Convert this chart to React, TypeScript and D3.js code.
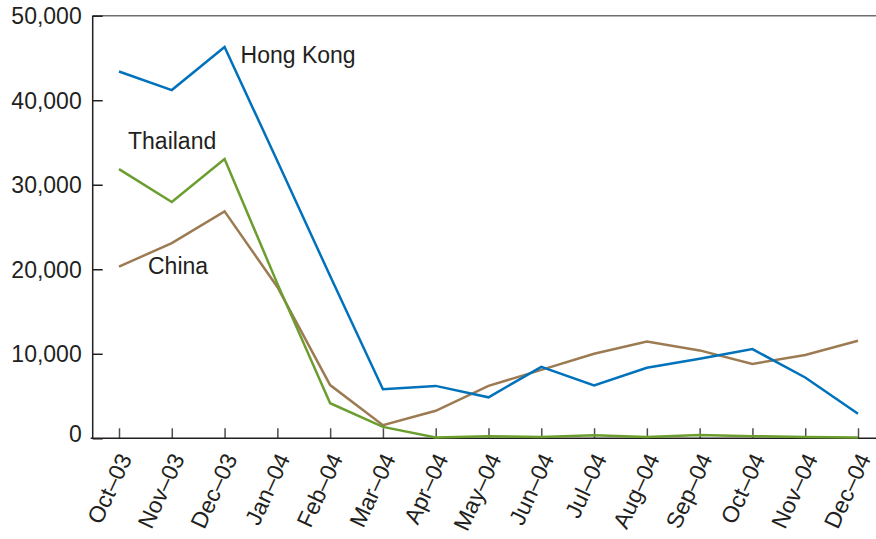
/* eslint-disable */
import React, { useEffect, useRef } from 'react';
import * as d3 from 'd3';

// ------- Data -------
const months = [
  'Oct–03', 'Nov–03', 'Dec–03', 'Jan–04', 'Feb–04', 'Mar–04', 'Apr–04', 'May–04',
  'Jun–04', 'Jul–04', 'Aug–04', 'Sep–04', 'Oct–04', 'Nov–04', 'Dec–04',
];
const hongKong = [43400, 41200, 46300, 32800, 19200, 5800, 6200, 4850, 8450, 6250, 8350, 9400, 10550, 7200, 2900];
const thailand = [31850, 27950, 33050, 18300, 4150, 1350, 100, 250, 150, 350, 150, 400, 250, 150, 100];
const china = [20300, 23100, 26850, 17900, 6300, 1550, 3250, 6200, 8100, 10000, 11450, 10400, 8800, 9850, 11550];
const yTicks = [0, 10000, 20000, 30000, 40000, 50000];

const INK = '#231f20';
const FONT = '"Liberation Sans", Arial, Helvetica, sans-serif';

export default function App() {
  const ref = useRef<SVGSVGElement>(null);

  useEffect(() => {
    if (!ref.current) return;
    const svg = d3.select(ref.current);
    svg.selectAll('*').remove();

    const width = 876;
    const height = 539;
    const axisX = 92.7;

    svg.attr('viewBox', `0 0 ${width} ${height}`);

    // ------- Scales -------
    const x = d3.scalePoint<string>().domain(months).range([119, 858]);
    const y = d3.scaleLinear().domain([0, 50000]).range([438.3, 15.7]);

    // ------- Frame lines -------
    svg.append('line')
      .attr('x1', axisX).attr('x2', width)
      .attr('y1', y(50000)).attr('y2', y(50000))
      .attr('stroke', '#6d6e71').attr('stroke-width', 1.5);

    svg.append('line')
      .attr('x1', axisX).attr('x2', axisX)
      .attr('y1', y(50000)).attr('y2', y(0))
      .attr('stroke', INK).attr('stroke-width', 1.5);

    // ------- Y axis -------
    const yAxis = svg.append('g')
      .attr('transform', `translate(${axisX},0)`)
      .call(d3.axisLeft(y).tickValues(yTicks).tickFormat(d3.format(',') as any).tickSize(-10).tickPadding(11).tickSizeOuter(0));
    yAxis.select('.domain').remove();
    yAxis.selectAll('.tick line').attr('stroke', INK).attr('stroke-width', 1.5);
    yAxis.selectAll('.tick text')
      .attr('fill', INK)
      .style('font-family', FONT)
      .style('font-size', '23px')
      .attr('dy', (d: any) => (d === 0 ? '0.15em' : '0.34em'));

    // ------- X axis -------
    const xAxis = svg.append('g')
      .attr('transform', `translate(0,${y(0)})`)
      .call(d3.axisBottom(x).tickSize(-10).tickSizeOuter(0).tickFormat(() => ''));
    xAxis.select('.domain').remove();
    xAxis.selectAll('.tick line').attr('stroke', '#4d4d4f').attr('stroke-width', 1.5);

    svg.append('line')
      .attr('x1', axisX - 2).attr('x2', width)
      .attr('y1', y(0)).attr('y2', y(0))
      .attr('stroke', INK).attr('stroke-width', 1.5);

    svg.append('g')
      .selectAll('text')
      .data(months)
      .enter()
      .append('text')
      .attr('transform', (d) => `translate(${x(d)! + 6},455) rotate(-65)`)
      .attr('text-anchor', 'end')
      .attr('dy', '0.35em')
      .attr('fill', INK)
      .style('font-family', FONT)
      .style('font-size', '23px')
      .text((d) => d);

    // ------- Lines -------
    const line = d3.line<number>()
      .x((_, i) => x(months[i])!)
      .y((d) => y(d));

    const series = [
      { name: 'China', values: china, color: '#9c7b52' },
      { name: 'Hong Kong', values: hongKong, color: '#0072bc' },
      { name: 'Thailand', values: thailand, color: '#6b9e2f' },
    ];

    series.forEach((s) => {
      svg.append('path')
        .datum(s.values)
        .attr('fill', 'none')
        .attr('stroke', s.color)
        .attr('stroke-width', 2.5)
        .attr('stroke-linejoin', 'miter')
        .attr('d', line);
    });

    // ------- Series labels -------
    const labels = [
      { text: 'Hong Kong', x: x('Dec–03')! + 16, y: y(hongKong[2]) + 16 },
      { text: 'Thailand', x: x('Oct–03')! + 9, y: y(thailand[0]) - 20 },
      { text: 'China', x: x('Oct–03')! + 29, y: y(china[0]) + 7.5 },
    ];
    svg.append('g')
      .selectAll('text')
      .data(labels)
      .enter()
      .append('text')
      .attr('x', (d) => d.x)
      .attr('y', (d) => d.y)
      .attr('fill', INK)
      .style('font-family', FONT)
      .style('font-size', '23px')
      .text((d) => d.text);
  }, []);

  return (
    <svg
      ref={ref}
      width={876}
      height={539}
      style={{ position: 'absolute', left: 0, top: 0, display: 'block', background: '#fff' }}
    />
  );
}
